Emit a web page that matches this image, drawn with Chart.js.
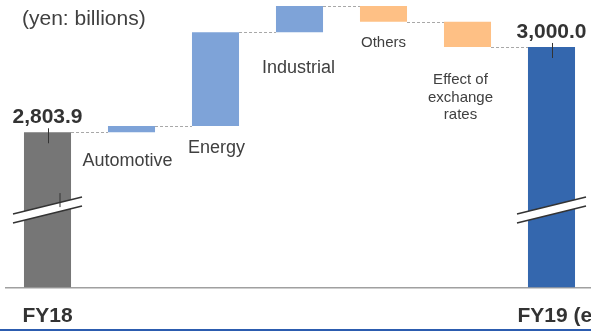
<!DOCTYPE html>
<html>
<head>
<meta charset="utf-8">
<script src="https://cdn.jsdelivr.net/npm/chart.js@4"></script>
<style>
  html, body { margin: 0; padding: 0; background: #fff; overflow: hidden; }
  #wrap { width: 591px; height: 331px; overflow: hidden; position: relative; }
</style>
</head>
<body>
<div id="wrap"><canvas id="waterfall" width="600" height="331"></canvas></div>
<script>
// data (yen: billions)
var categories = ['FY18', 'Automotive', 'Energy', 'Industrial', 'Others', 'Effect of exchange rates', 'FY19 (e)'];
var startTotal = 2803.9;
var endTotal = 3000.0;
var changes = [14.5, 215.4, 60.5, -36.1, -58.2];
var valueLabels = ['2,803.9', '3,000.0'];
var barColors = ['#767676', '#7ea3d8', '#7ea3d8', '#7ea3d8', '#fec085', '#fec085', '#3467ae'];

var yMin = 2447, yMax = 3108;
var breakAt = 2625; // where the axis break marks sit

// running totals and floating bars
var totals = [startTotal];
var bars = [[yMin, startTotal]];
for (var i = 0; i < changes.length; i++) {
  var prev = totals[totals.length - 1];
  totals.push(prev + changes[i]);
  bars.push([prev, prev + changes[i]]);
}
bars.push([yMin, endTotal]);
totals.push(endTotal);

// label placement: [dx from bar centre, baseline y, font size, lines]
var catText = {
  1: {dx: -4, y: 166, size: 18, lines: ['Automotive']},
  2: {dx: 1, y: 153, size: 18, lines: ['Energy']},
  3: {dx: -1, y: 73, size: 18, lines: ['Industrial']},
  4: {dx: 0, y: 47, size: 15, lines: ['Others']},
  5: {dx: -7, y: 84, size: 15, lines: ['Effect of', 'exchange', 'rates']}
};

var waterfallPlugin = {
  id: 'waterfallDeco',
  afterDatasetsDraw: function(chart) {
    var ctx = chart.ctx;
    var ys = chart.scales.y;
    var meta = chart.getDatasetMeta(0);
    var els = meta.data;
    ctx.save();

    // dashed connectors
    ctx.strokeStyle = '#a8a8a8';
    ctx.lineWidth = 1;
    ctx.setLineDash([3, 2]);
    for (var i = 0; i < els.length - 1; i++) {
      var y = Math.round(ys.getPixelForValue(totals[i])) + 0.5;
      ctx.beginPath();
      ctx.moveTo(els[i].x + els[i].width / 2, y);
      ctx.lineTo(els[i + 1].x - els[i + 1].width / 2, y);
      ctx.stroke();
    }
    ctx.setLineDash([]);

    // break marks on the two total bars
    [0, els.length - 1].forEach(function(idx) {
      var el = els[idx];
      var cx = el.x, half = el.width / 2;
      var yc = ys.getPixelForValue(breakAt);
      var s = -17 / 69;
      var x1 = cx - half - 11, x2 = cx + half + 11;
      ctx.fillStyle = '#ffffff';
      ctx.beginPath();
      ctx.moveTo(x1, yc - 4.5 + s * (x1 - cx));
      ctx.lineTo(x2, yc - 4.5 + s * (x2 - cx));
      ctx.lineTo(x2, yc + 4.5 + s * (x2 - cx));
      ctx.lineTo(x1, yc + 4.5 + s * (x1 - cx));
      ctx.closePath();
      ctx.fill();
      ctx.strokeStyle = '#333333';
      ctx.lineWidth = 1.5;
      [-4.5, 4.5].forEach(function(off) {
        ctx.beginPath();
        ctx.moveTo(x1, yc + off + s * (x1 - cx));
        ctx.lineTo(x2, yc + off + s * (x2 - cx));
        ctx.stroke();
      });
      if (idx === 0) {
        ctx.lineWidth = 1;
        ctx.beginPath();
        ctx.moveTo(cx + 12.5, yc - 17);
        ctx.lineTo(cx + 12.5, yc - 3);
        ctx.stroke();
      }
    });

    // value labels on totals
    ctx.fillStyle = '#333333';
    ctx.font = 'bold 21px "Liberation Sans", Arial, sans-serif';
    ctx.textAlign = 'center';
    ctx.textBaseline = 'alphabetic';
    [0, els.length - 1].forEach(function(idx, k) {
      var el = els[idx];
      var top = Math.min(el.y, el.base);
      ctx.fillText(valueLabels[k], el.x, top - 9);
      ctx.strokeStyle = '#333333';
      ctx.lineWidth = 1;
      ctx.beginPath();
      ctx.moveTo(Math.round(el.x) + 0.5, top - 4);
      ctx.lineTo(Math.round(el.x) + 0.5, top + 11);
      ctx.stroke();
    });

    // category labels
    ctx.fillStyle = '#404040';
    Object.keys(catText).forEach(function(k) {
      var t = catText[k];
      ctx.font = t.size + 'px "Liberation Sans", Arial, sans-serif';
      t.lines.forEach(function(line, j) {
        ctx.fillText(line, els[k].x + t.dx, t.y + j * 17.5);
      });
    });

    // FY labels under the axis
    ctx.fillStyle = '#333333';
    ctx.font = 'bold 21px "Liberation Sans", Arial, sans-serif';
    ctx.fillText(categories[0], els[0].x, 322);
    ctx.textAlign = 'left';
    ctx.fillText(categories[6], els[6].x - 34, 322);

    // unit note
    ctx.fillStyle = '#404040';
    ctx.font = '21px "Liberation Sans", Arial, sans-serif';
    ctx.fillText('(yen: billions)', 22, 25);

    // blue rule at the bottom
    ctx.fillStyle = '#2c5caf';
    ctx.fillRect(0, 329, chart.width, 2);
    ctx.restore();
  }
};

var ctx = document.getElementById('waterfall');
var chart = new Chart(ctx, {
  type: 'bar',
  data: {
    labels: categories,
    datasets: [{
      label: '',
      data: bars,
      backgroundColor: barColors,
      borderWidth: 0,
      barPercentage: 0.56,
      categoryPercentage: 1.0
    }]
  },
  options: {
    responsive: false,
    animation: false,
    layout: { padding: { left: 5.5, right: 6.5, top: 0, bottom: 43.5 } },
    plugins: {
      legend: { display: false },
      tooltip: { enabled: false }
    },
    scales: {
      x: {
        grid: { display: false, drawTicks: false },
        ticks: { display: false },
        border: { display: true, color: '#a0a0a0', width: 1.5 }
      },
      y: {
        display: false,
        min: yMin,
        max: yMax
      }
    }
  },
  plugins: [waterfallPlugin]
});
</script>
</body>
</html>
